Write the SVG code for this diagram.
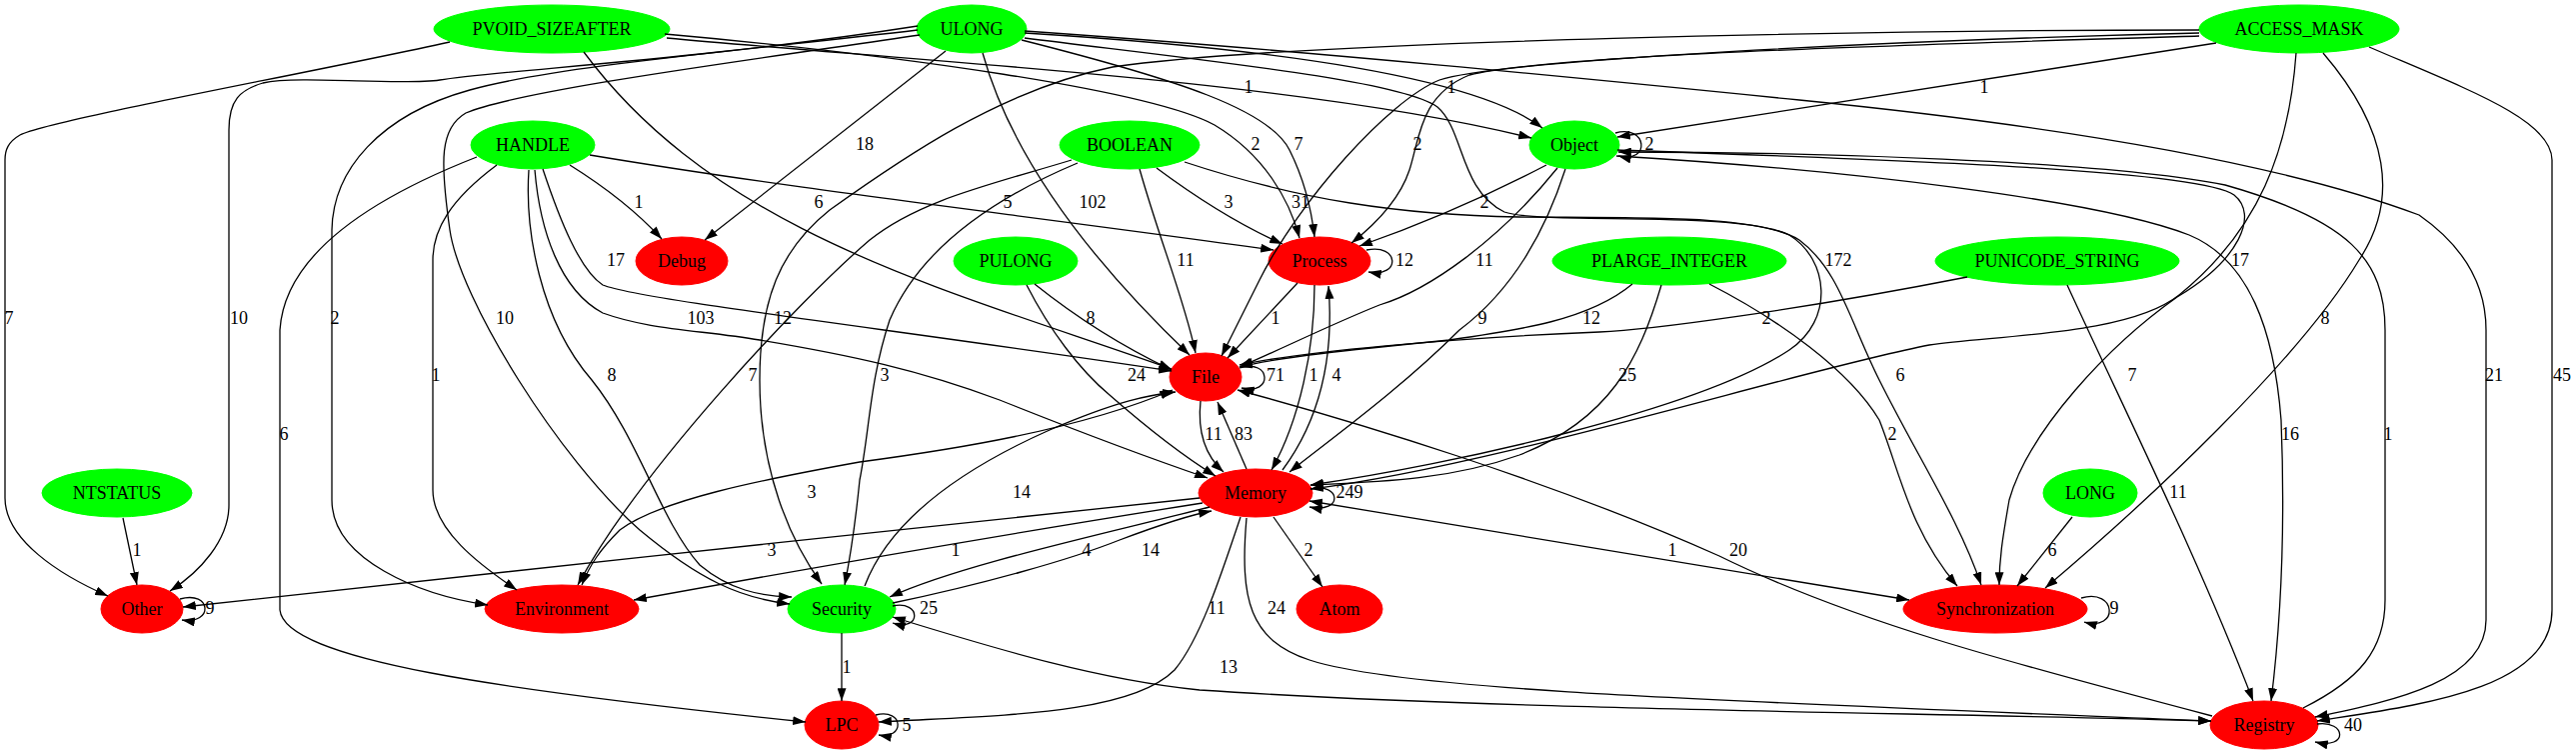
<svg xmlns="http://www.w3.org/2000/svg" width="2577" height="755" viewBox="0 0 2577 755">
<style>
.e{fill:none;stroke:#000;stroke-width:1.3;marker-end:url(#ah)}
.b{marker-start:url(#ah)}
.l,.t{font-family:"Liberation Serif","Times New Roman",serif;font-size:18px;text-anchor:middle;fill:#000}
.g{fill:#00ff00;stroke:#00ff00}
.r{fill:#ff0000;stroke:#ff0000}
</style>
<defs>
<marker id="ah" viewBox="0 0 10 7" refX="10" refY="3.5" markerWidth="13" markerHeight="9" markerUnits="userSpaceOnUse" orient="auto-start-reverse"><path d="M0,0L10,3.5L0,7z" fill="#000"/></marker>
</defs>
<rect width="2577" height="755" fill="#fff"/>
<g id="nodes">
<g id="PVOID_SIZEAFTER"><ellipse class="g" cx="552" cy="29" rx="118" ry="24"/><text class="t" x="552" y="35">PVOID_SIZEAFTER</text></g>
<g id="ULONG"><ellipse class="g" cx="972" cy="29" rx="55" ry="24"/><text class="t" x="972" y="35">ULONG</text></g>
<g id="ACCESS_MASK"><ellipse class="g" cx="2300" cy="29" rx="100" ry="24"/><text class="t" x="2300" y="35">ACCESS_MASK</text></g>
<g id="HANDLE"><ellipse class="g" cx="533" cy="145" rx="62" ry="24"/><text class="t" x="533" y="151">HANDLE</text></g>
<g id="BOOLEAN"><ellipse class="g" cx="1130" cy="145" rx="70" ry="24"/><text class="t" x="1130" y="151">BOOLEAN</text></g>
<g id="Object"><ellipse class="g" cx="1575" cy="145" rx="45" ry="24"/><text class="t" x="1575" y="151">Object</text></g>
<g id="Debug"><ellipse class="r" cx="682" cy="261" rx="46" ry="24"/><text class="t" x="682" y="267">Debug</text></g>
<g id="PULONG"><ellipse class="g" cx="1016" cy="261" rx="62" ry="24"/><text class="t" x="1016" y="267">PULONG</text></g>
<g id="Process"><ellipse class="r" cx="1320" cy="261" rx="51" ry="24"/><text class="t" x="1320" y="267">Process</text></g>
<g id="PLARGE_INTEGER"><ellipse class="g" cx="1670" cy="261" rx="117" ry="24"/><text class="t" x="1670" y="267">PLARGE_INTEGER</text></g>
<g id="PUNICODE_STRING"><ellipse class="g" cx="2058" cy="261" rx="122" ry="24"/><text class="t" x="2058" y="267">PUNICODE_STRING</text></g>
<g id="File"><ellipse class="r" cx="1206" cy="377" rx="36" ry="24"/><text class="t" x="1206" y="383">File</text></g>
<g id="NTSTATUS"><ellipse class="g" cx="117" cy="493" rx="75" ry="24"/><text class="t" x="117" y="499">NTSTATUS</text></g>
<g id="Memory"><ellipse class="r" cx="1256" cy="493" rx="57" ry="24"/><text class="t" x="1256" y="499">Memory</text></g>
<g id="LONG"><ellipse class="g" cx="2091" cy="493" rx="47" ry="24"/><text class="t" x="2091" y="499">LONG</text></g>
<g id="Other"><ellipse class="r" cx="142" cy="609" rx="41" ry="24"/><text class="t" x="142" y="615">Other</text></g>
<g id="Environment"><ellipse class="r" cx="562" cy="609" rx="77" ry="24"/><text class="t" x="562" y="615">Environment</text></g>
<g id="Security"><ellipse class="g" cx="842" cy="609" rx="54" ry="24"/><text class="t" x="842" y="615">Security</text></g>
<g id="Atom"><ellipse class="r" cx="1340" cy="609" rx="43" ry="24"/><text class="t" x="1340" y="615">Atom</text></g>
<g id="Synchronization"><ellipse class="r" cx="1996" cy="609" rx="92" ry="24"/><text class="t" x="1996" y="615">Synchronization</text></g>
<g id="LPC"><ellipse class="r" cx="842" cy="725" rx="37" ry="24"/><text class="t" x="842" y="731">LPC</text></g>
<g id="Registry"><ellipse class="r" cx="2265" cy="725" rx="54" ry="24"/><text class="t" x="2265" y="731">Registry</text></g>
</g>
<g id="connectors">
<!-- PVOID_SIZEAFTER -->
<path class="e" d="M450,42 C300,75 50,120 20,135 C8,142 5,150 5,160 L5,498 C5,540 60,575 108,596"/>
<path class="e" d="M584,52 C720,235 950,290 1172,369"/>
<path class="e" d="M665,34 C900,55 1150,90 1215,125 C1265,155 1290,200 1300,238"/>
<path class="e" d="M667,38 C900,60 1300,80 1532,138"/>
<!-- ULONG -->
<path class="e" d="M918,26 C700,60 500,70 440,80 C400,86 300,75 263,83 C240,90 229,100 229,130 L229,505 C229,540 200,572 170,591"/>
<path class="e" d="M918,30 C750,50 560,65 470,90 C380,115 333,170 332,230 L332,500 C332,560 420,595 488,605"/>
<path class="e" d="M920,35 C750,60 520,90 466,113 C440,128 440,160 450,230 C460,300 560,460 640,530 C700,580 740,598 790,604"/>
<path class="e" d="M946,51 L705,240"/>
<path class="e" d="M983,53 C1010,150 1080,250 1190,355"/>
<path class="e" d="M1022,40 C1180,80 1270,110 1290,150 C1305,180 1312,210 1315,237"/>
<path class="e" d="M1025,33 C1300,50 1480,80 1543,128"/>
<path class="e" d="M1025,38 C1200,60 1400,80 1438,107 C1465,130 1460,190 1505,212 C1540,225 1740,210 1790,235 C1830,260 1835,320 1790,350 C1700,410 1450,465 1311,485"/>
<path class="e" d="M1025,31 C1300,50 1600,80 1800,100 C2100,130 2300,170 2420,215 C2470,250 2487,290 2487,330 L2487,620 C2487,680 2400,700 2316,717"/>
<!-- ACCESS_MASK -->
<path class="e" d="M2370,47 C2470,90 2553,120 2553,160 L2553,610 C2553,690 2420,705 2318,721"/>
<path class="e" d="M2217,43 L1618,137"/>
<path class="e" d="M2200,30 C1900,30 1300,40 1113,67 C1000,90 900,160 830,210 C780,250 760,300 760,380 C760,470 790,540 822,584"/>
<path class="e" d="M2200,33 C1900,40 1500,60 1440,80 C1390,100 1300,200 1260,280 C1240,320 1230,340 1222,356"/>
<path class="e" d="M2200,36 C1900,45 1550,55 1470,75 C1420,95 1420,140 1410,170 C1400,200 1375,225 1352,243"/>
<path class="e" d="M2297,53 C2290,150 2260,230 2180,295 C2130,335 2000,335 1930,345 C1800,370 1500,465 1311,489"/>
<path class="e" d="M2324,53 C2390,130 2400,200 2360,260 C2300,360 2150,500 2046,588"/>
<!-- HANDLE -->
<path class="e" d="M570,165 C610,190 640,215 662,239"/>
<path class="e" d="M590,155 C800,190 1000,212 1274,250"/>
<path class="e" d="M543,169 C560,220 580,270 603,285 C640,300 900,330 1172,371"/>
<path class="e" d="M535,170 C540,230 560,290 603,313 C650,330 700,330 760,340 C850,355 920,370 1000,400 C1100,440 1170,465 1208,478"/>
<path class="e" d="M497,165 C450,200 433,230 433,260 L433,490 C433,530 480,565 517,590"/>
<path class="e" d="M529,170 C525,230 540,320 592,380 C640,440 660,520 700,565 C730,590 760,596 792,597"/>
<path class="e" d="M477,157 C380,195 285,250 280,330 L280,610 C285,660 500,690 806,722"/>
<!-- BOOLEAN -->
<path class="e" d="M1157,168 C1200,200 1240,225 1283,244"/>
<path class="e" d="M1140,169 C1160,240 1185,300 1196,353"/>
<path class="e" d="M1072,160 C990,185 920,200 870,240 C800,300 640,470 578,585"/>
<path class="e" d="M1078,163 C990,200 920,250 890,320 C870,380 870,430 860,480 C855,530 850,560 845,585"/>
<path class="e" d="M1185,162 C1300,200 1400,215 1520,217 C1650,218 1760,215 1800,240 C1840,270 1850,320 1880,380 C1920,460 1960,520 1982,585"/>
<!-- Object -->
<path class="e" d="M1616,133 C1648,124 1652,164 1619,156"/>
<path class="e" d="M1547,165 C1480,200 1420,225 1360,246"/>
<path class="e" d="M1558,168 C1500,240 1430,290 1380,305 C1330,325 1280,350 1240,367"/>
<path class="e" d="M1566,169 C1540,250 1500,300 1460,330 C1400,390 1330,440 1290,472"/>
<path class="e" d="M1618,150 C1900,160 2200,170 2235,195 C2260,215 2240,260 2178,297 C2110,345 2030,430 2010,500 C2003,540 2000,560 2000,585"/>
<path class="e" d="M1617,156 C1850,170 2100,200 2190,235 C2250,260 2275,330 2282,420 C2286,520 2282,620 2272,701"/>
<!-- Process -->
<path class="e" d="M1367,250 C1400,243 1402,278 1369,272"/>
<path class="e" d="M1298,283 L1228,358"/>
<path class="e" d="M1315,285 C1315,350 1300,420 1272,470"/>
<!-- PULONG -->
<path class="e" d="M1035,284 C1080,320 1130,350 1172,370"/>
<path class="e" d="M1027,285 C1050,330 1080,370 1110,395 C1150,430 1190,460 1216,476"/>
<!-- PLARGE_INTEGER -->
<path class="e" d="M1633,284 C1590,320 1520,330 1450,340 C1350,350 1280,357 1240,367"/>
<path class="e" d="M1662,285 C1640,360 1610,420 1520,455 C1450,480 1380,482 1311,485"/>
<path class="e" d="M1710,284 C1780,320 1850,370 1880,420 C1900,470 1910,530 1958,586"/>
<!-- PUNICODE_STRING -->
<path class="e" d="M1968,277 C1800,310 1650,330 1600,332 C1450,338 1300,352 1240,365"/>
<path class="e" d="M2068,285 C2130,420 2200,560 2254,701"/>
<!-- File -->
<path class="e" d="M1240,368 C1272,358 1274,396 1242,388"/>
<path class="e" d="M1201,401 C1198,430 1205,455 1224,472"/>
<path class="e b" d="M1173,390 C1080,430 950,450 860,462 C760,480 660,500 620,530 C600,550 590,565 582,585"/>
<!-- Memory -->
<path class="e" d="M1247,469 L1218,402"/>
<path class="e" d="M1283,470 C1320,420 1335,360 1329,286"/>
<path class="e" d="M1311,489 C1342,482 1344,514 1310,507"/>
<path class="e" d="M1200,498 C900,532 500,570 183,607"/>
<path class="e" d="M1203,503 C1000,535 800,570 634,600"/>
<path class="e" d="M1210,507 C1100,535 960,565 890,597"/>
<path class="e" d="M1274,517 L1323,587"/>
<path class="e" d="M1241,517 C1220,580 1200,640 1175,670 C1130,715 1000,715 879,722"/>
<path class="e" d="M1247,518 C1240,600 1250,640 1310,660 C1400,690 1700,700 2212,721"/>
<path class="e b" d="M1310,501 L1910,600"/>
<!-- Security -->
<path class="e" d="M893,603 C980,585 1070,560 1120,540 C1160,525 1190,515 1212,511"/>
<path class="e" d="M865,586 C890,520 960,470 1050,430 C1120,400 1150,395 1176,392"/>
<path class="e" d="M893,606 C922,600 922,632 893,623"/>
<path class="e" d="M842,633 L842,701"/>
<path class="e b" d="M893,617 C1000,650 1100,680 1200,690 C1500,710 1900,712 2212,721"/>
<!-- others -->
<path class="e" d="M123,518 L137,585"/>
<path class="e" d="M180,599 C212,590 214,625 182,620"/>
<path class="e" d="M2073,517 L2018,586"/>
<path class="e" d="M2082,598 C2118,588 2120,632 2085,622"/>
<path class="e" d="M876,715 C905,708 905,740 879,735"/>
<path class="e" d="M2213,716 C2000,660 1850,620 1720,556 C1550,480 1350,420 1238,390"/>
<path class="e" d="M2304,708 C2360,680 2386,650 2386,600 L2386,330 C2386,260 2350,220 2226,185 C2100,160 1800,152 1619,152"/>
<path class="e" d="M2318,724 C2347,720 2350,750 2316,742"/>
<!-- labels -->
<text class="l" x="1249" y="93">1</text>
<text class="l" x="1452" y="93">1</text>
<text class="l" x="1985" y="93">1</text>
<text class="l" x="865" y="150">18</text>
<text class="l" x="1256" y="150">2</text>
<text class="l" x="1299" y="150">7</text>
<text class="l" x="1418" y="150">2</text>
<text class="l" x="1650" y="150">2</text>
<text class="l" x="639" y="208">1</text>
<text class="l" x="819" y="208">6</text>
<text class="l" x="1008" y="208">5</text>
<text class="l" x="1093" y="208">102</text>
<text class="l" x="1229" y="208">3</text>
<text class="l" x="1301" y="208">31</text>
<text class="l" x="1485" y="208">2</text>
<text class="l" x="616" y="266">17</text>
<text class="l" x="1186" y="266">11</text>
<text class="l" x="1405" y="266">12</text>
<text class="l" x="1485" y="266">11</text>
<text class="l" x="1839" y="266">172</text>
<text class="l" x="2241" y="266">17</text>
<text class="l" x="9" y="324">7</text>
<text class="l" x="239" y="324">10</text>
<text class="l" x="335" y="324">2</text>
<text class="l" x="505" y="324">10</text>
<text class="l" x="701" y="324">103</text>
<text class="l" x="783" y="324">12</text>
<text class="l" x="1091" y="324">8</text>
<text class="l" x="1276" y="324">1</text>
<text class="l" x="1483" y="324">9</text>
<text class="l" x="1592" y="324">12</text>
<text class="l" x="1767" y="324">2</text>
<text class="l" x="2326" y="324">8</text>
<text class="l" x="436" y="381">1</text>
<text class="l" x="612" y="381">8</text>
<text class="l" x="753" y="381">7</text>
<text class="l" x="885" y="381">3</text>
<text class="l" x="1137" y="381">24</text>
<text class="l" x="1276" y="381">71</text>
<text class="l" x="1314" y="381">1</text>
<text class="l" x="1337" y="381">4</text>
<text class="l" x="1628" y="381">25</text>
<text class="l" x="1901" y="381">6</text>
<text class="l" x="2133" y="381">7</text>
<text class="l" x="2495" y="381">21</text>
<text class="l" x="2563" y="381">45</text>
<text class="l" x="284" y="440">6</text>
<text class="l" x="1214" y="440">11</text>
<text class="l" x="1244" y="440">83</text>
<text class="l" x="1893" y="440">2</text>
<text class="l" x="2291" y="440">16</text>
<text class="l" x="2389" y="440">1</text>
<text class="l" x="812" y="498">3</text>
<text class="l" x="1022" y="498">14</text>
<text class="l" x="1350" y="498">249</text>
<text class="l" x="2179" y="498">11</text>
<text class="l" x="137" y="556">1</text>
<text class="l" x="772" y="556">3</text>
<text class="l" x="956" y="556">1</text>
<text class="l" x="1087" y="556">4</text>
<text class="l" x="1151" y="556">14</text>
<text class="l" x="1309" y="556">2</text>
<text class="l" x="1673" y="556">1</text>
<text class="l" x="1739" y="556">20</text>
<text class="l" x="2053" y="556">6</text>
<text class="l" x="210" y="614">9</text>
<text class="l" x="929" y="614">25</text>
<text class="l" x="1217" y="614">11</text>
<text class="l" x="1277" y="614">24</text>
<text class="l" x="2115" y="614">9</text>
<text class="l" x="847" y="673">1</text>
<text class="l" x="1229" y="673">13</text>
<text class="l" x="907" y="731">5</text>
<text class="l" x="2354" y="731">40</text>
</g>
</svg>
